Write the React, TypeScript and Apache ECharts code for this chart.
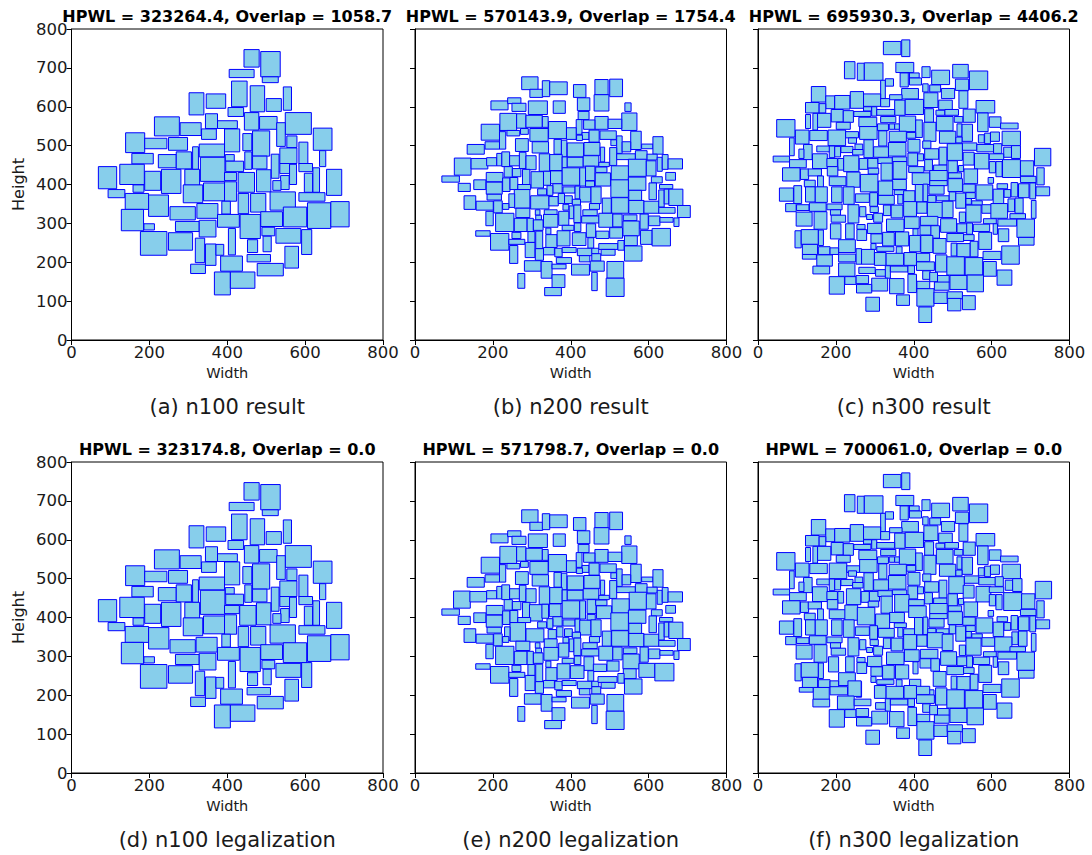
import React, { useEffect, useRef } from "react";
import * as echarts from "echarts";

type Rect = [number, number, number, number]; // x, y, width, height in chart units
type Move = [number, number, number, number, number]; // 1-based block number, x, y, width, height

const n100Result: Rect[] = [
[443,702,39,45],[486,677,50,65],[405,675,64,21],[490,662,41,15],[411,600,40,66],[459,587,37,67],[544,591,21,60],[500,588,39,33],[302,579,38,57],[346,596,50,37],
[402,575,40,23],[344,544,31,38],[444,540,37,45],[483,542,45,33],[549,529,67,56],[213,525,64,49],[279,526,54,33],[375,544,51,20],[334,516,38,27],[527,498,22,61],
[621,488,48,57],[393,484,39,59],[440,487,23,44],[465,473,44,65],[139,482,49,51],[188,492,57,27],[249,488,49,33],[553,495,26,30],[584,452,23,57],[328,471,65,33],
[311,439,15,58],[535,454,44,40],[637,446,16,41],[155,453,55,27],[223,443,46,34],[269,440,39,44],[395,460,23,17],[445,439,18,45],[465,440,37,33],[513,416,20,62],
[331,408,63,62],[396,433,46,27],[535,428,25,26],[560,400,18,52],[584,433,35,21],[124,400,63,52],[69,389,47,57],[188,385,41,49],[231,377,50,62],[291,398,38,41],
[393,410,31,21],[428,380,42,51],[475,381,37,57],[537,387,22,36],[517,385,21,25],[598,380,21,49],[620,380,17,63],[655,372,39,67],[158,380,28,19],[94,366,43,21],
[287,353,50,46],[339,358,55,46],[393,357,31,50],[138,336,60,41],[198,318,51,55],[428,325,27,52],[460,329,39,48],[510,334,65,47],[584,357,67,22],[386,324,22,33],
[322,313,54,38],[253,309,65,34],[606,287,60,66],[666,291,47,65],[544,291,60,51],[486,292,56,38],[128,281,57,55],[375,290,56,33],[433,261,52,62],[186,283,27,16],
[267,279,61,26],[328,265,43,43],[489,268,33,22],[525,249,64,38],[177,218,68,61],[249,231,62,45],[591,220,26,64],[403,219,18,68],[492,227,21,40],[452,225,26,33],
[318,199,24,63],[344,192,27,55],[371,218,20,28],[548,185,35,56],[451,201,60,19],[383,177,56,39],[306,171,38,24],[477,165,67,32],[367,116,41,59],[408,133,63,42],
];

const n200Result: Rect[] = [
[274,644,42,33],[295,624,33,21],[327,626,19,41],[346,631,45,33],[407,624,32,33],[462,631,34,39],[500,626,33,45],[460,589,38,42],[417,590,32,33],[195,592,44,23],
[238,608,34,15],[249,588,36,21],[291,580,49,35],[355,583,31,32],[539,588,16,22],[419,567,28,21],[218,539,43,44],[261,545,24,37],[285,547,42,31],[327,547,15,28],
[462,542,34,33],[531,539,39,45],[496,544,35,24],[433,542,29,24],[414,529,15,38],[343,518,46,44],[170,514,47,41],[236,525,33,14],[271,529,20,15],[295,511,47,33],
[389,516,25,30],[429,516,18,18],[447,509,26,31],[475,516,42,22],[415,513,15,14],[554,490,27,47],[217,491,16,45],[180,491,37,19],[258,485,33,33],[134,478,44,25],
[301,481,42,29],[357,478,19,38],[376,471,14,43],[391,471,42,36],[434,475,41,33],[503,500,15,15],[518,480,14,45],[532,484,22,26],[582,492,29,12],[611,478,26,45],
[500,449,18,46],[476,458,11,38],[518,464,48,15],[566,464,30,23],[596,463,26,15],[101,424,43,44],[144,440,43,27],[184,448,26,21],[210,448,13,32],[223,446,20,38],
[243,448,26,26],[268,441,17,42],[285,438,26,36],[319,434,27,45],[346,436,32,41],[378,443,13,28],[391,445,41,25],[432,447,40,27],[472,446,27,11],[548,421,46,44],
[594,422,25,39],[622,434,13,36],[635,439,15,38],[650,440,37,26],[229,419,21,27],[250,420,22,21],[276,400,19,39],[183,407,43,24],[298,391,32,42],[330,398,18,36],
[348,402,30,33],[378,398,45,45],[423,396,15,47],[438,410,24,37],[464,431,29,14],[504,411,44,37],[463,396,39,34],[438,394,23,15],[644,411,25,20],[607,404,28,16],
[548,385,45,34],[503,367,45,45],[151,387,31,25],[183,375,41,31],[225,382,19,35],[244,387,20,31],[111,382,31,21],[69,406,45,16],[264,387,33,13],[354,378,24,24],
[380,378,31,16],[339,372,15,25],[315,373,23,16],[411,363,13,33],[423,355,29,38],[452,351,26,43],[601,361,19,43],[628,389,34,11],[549,359,33,26],[185,360,37,15],
[126,336,30,35],[157,334,44,23],[255,339,40,48],[241,341,15,35],[297,337,47,34],[344,345,24,24],[368,351,16,26],[384,351,20,20],[404,347,21,15],[481,326,23,39],
[505,326,43,40],[549,325,39,34],[588,326,39,31],[626,342,14,44],[640,350,12,38],[652,346,36,42],[626,326,42,15],[202,327,22,31],[225,336,16,15],[259,315,36,24],
[309,321,12,14],[310,309,15,12],[332,322,33,13],[380,334,15,15],[396,312,12,33],[408,302,18,45],[448,336,26,15],[431,320,37,15],[428,301,45,18],[674,315,33,31],
[182,294,19,37],[207,279,47,47],[255,279,33,34],[288,279,16,34],[304,282,25,27],[330,290,37,33],[369,295,26,36],[472,290,36,36],[508,291,24,33],[535,307,35,15],
[578,285,21,39],[600,294,29,25],[629,303,34,12],[665,292,13,22],[534,268,42,38],[500,262,33,27],[440,264,24,35],[409,279,17,22],[378,282,30,13],[336,272,13,16],
[156,267,37,14],[249,261,23,16],[465,261,33,19],[290,251,18,28],[310,235,18,45],[336,238,29,33],[365,242,33,39],[404,243,35,33],[444,236,15,27],[579,246,30,36],
[609,242,47,45],[538,243,33,25],[194,231,47,43],[241,246,41,13],[243,197,21,46],[283,212,25,39],[309,205,21,30],[330,219,28,19],[359,214,19,22],[378,225,36,13],
[417,217,38,19],[454,222,18,14],[472,233,49,15],[478,218,36,15],[521,231,16,25],[538,203,45,39],[363,197,39,15],[422,201,27,16],[454,203,23,19],[281,177,43,27],
[324,159,28,43],[352,183,36,12],[402,167,46,28],[450,177,36,26],[493,159,43,43],[264,133,18,38],[352,135,33,33],[454,127,14,47],[491,112,46,47],[333,114,43,21],
];

const n300Result: Rect[] = [
[322,734,45,34],[369,729,21,43],[222,672,27,44],[255,668,18,44],[273,668,48,45],[354,688,46,26],[421,675,21,28],[500,674,40,35],[446,657,46,37],[543,644,47,48],
[389,674,25,13],[365,651,21,36],[389,656,31,18],[327,653,21,19],[315,621,12,47],[507,642,34,29],[423,638,14,21],[441,638,28,18],[471,621,34,26],[137,612,37,40],
[369,620,43,27],[174,595,23,33],[197,594,39,35],[237,596,34,43],[271,601,44,32],[338,618,32,13],[315,600,23,21],[426,598,36,38],[516,596,23,45],[464,592,35,25],
[351,578,27,39],[378,580,47,39],[560,584,48,32],[122,584,35,27],[157,584,17,24],[271,589,21,11],[292,576,13,24],[305,578,46,15],[246,575,44,13],[188,561,31,32],
[219,560,26,30],[428,560,23,35],[457,578,23,13],[480,578,35,15],[527,560,31,34],[122,544,13,36],[141,540,12,43],[153,547,34,36],[315,559,39,16],[363,536,42,40],
[504,560,22,15],[564,536,27,48],[594,547,30,27],[48,522,47,45],[201,542,36,18],[259,549,46,24],[307,539,28,17],[337,542,14,14],[351,542,12,14],[405,521,17,45],
[458,538,43,37],[426,511,31,49],[511,524,13,32],[524,511,27,44],[623,543,45,15],[96,504,35,36],[133,513,45,26],[180,500,45,40],[225,520,33,16],[261,516,45,33],
[310,499,21,39],[337,510,44,27],[382,519,23,15],[466,506,42,31],[508,507,16,15],[566,507,15,21],[582,505,15,27],[597,511,23,24],[627,500,47,37],[81,474,12,46],
[232,506,21,14],[249,490,20,14],[272,469,24,46],[385,483,31,33],[423,493,21,19],[335,473,45,35],[297,470,38,27],[117,464,22,39],[151,484,33,15],[183,469,14,30],
[197,471,15,27],[213,482,31,16],[243,476,27,14],[486,462,39,43],[525,488,37,19],[562,484,43,19],[605,480,21,25],[631,470,20,26],[651,467,23,33],[710,448,42,45],
[105,467,13,24],[428,465,36,27],[465,450,20,46],[39,458,42,15],[140,441,38,38],[81,443,43,21],[177,446,27,21],[205,437,15,30],[220,433,39,41],[260,439,22,28],
[282,442,26,25],[308,454,37,15],[345,459,37,12],[385,448,25,33],[410,461,15,18],[428,435,20,29],[527,450,28,33],[556,440,37,40],[594,464,37,15],[488,430,24,31],
[515,433,13,16],[594,430,16,29],[611,420,16,39],[628,418,46,46],[674,422,34,39],[63,409,45,34],[109,413,21,27],[129,422,34,18],[178,422,27,24],[283,427,27,15],
[316,411,29,44],[347,414,35,45],[387,431,39,15],[451,435,34,15],[441,410,45,26],[489,416,34,14],[529,402,35,38],[716,399,19,44],[183,397,43,23],[228,393,34,39],
[263,381,45,45],[396,400,45,30],[153,393,15,29],[674,405,40,16],[119,394,28,17],[345,387,36,26],[309,372,37,37],[441,397,45,13],[488,382,37,33],[591,403,14,15],
[614,389,27,13],[526,380,32,21],[439,375,39,22],[92,351,20,46],[55,357,36,34],[122,355,25,39],[147,354,31,40],[189,354,27,40],[219,349,28,45],[250,354,36,22],
[287,344,20,35],[309,349,41,23],[350,374,31,12],[374,355,29,29],[404,355,20,45],[424,356,12,45],[560,360,43,39],[604,351,27,37],[632,367,17,20],[650,368,17,37],
[669,366,27,36],[698,363,15,41],[714,371,35,23],[359,350,13,24],[436,353,21,19],[458,358,33,13],[491,358,17,23],[508,339,25,39],[534,349,14,15],[534,364,24,15],
[549,347,27,11],[642,330,17,33],[660,326,21,39],[702,313,12,46],[71,330,27,21],[99,333,32,15],[132,331,43,22],[177,335,39,15],[186,321,26,14],[231,301,28,47],
[261,317,16,26],[288,328,21,15],[322,320,19,27],[342,314,30,33],[374,318,33,38],[408,326,26,29],[435,315,41,39],[473,315,28,42],[534,303,39,44],[575,326,33,22],
[598,313,43,38],[647,312,40,13],[98,293,41,36],[144,285,33,45],[188,303,37,18],[279,310,15,13],[297,303,23,23],[517,302,16,27],[376,287,38,30],[417,295,45,23],
[330,279,45,32],[469,277,41,35],[579,299,33,13],[616,293,48,18],[665,264,45,47],[186,260,27,39],[225,260,22,39],[254,285,21,12],[281,274,37,26],[511,276,26,23],
[536,272,15,29],[553,279,42,19],[604,272,11,27],[254,256,25,28],[398,255,13,31],[416,270,29,24],[444,262,22,32],[617,253,27,33],[95,237,16,44],[111,246,44,38],
[155,243,13,40],[290,249,29,24],[320,242,30,35],[353,242,34,36],[485,253,43,21],[528,256,27,15],[567,233,33,44],[389,227,28,42],[418,225,31,44],[450,223,33,38],
[669,244,40,20],[207,225,43,33],[114,220,39,26],[155,220,30,20],[185,220,22,17],[290,233,13,15],[305,228,44,12],[355,221,15,19],[496,216,15,33],[511,214,34,34],
[545,214,20,40],[114,208,36,12],[207,201,44,20],[252,195,14,40],[266,195,33,38],[299,192,30,33],[329,192,45,31],[375,192,32,33],[407,202,34,21],[456,175,29,44],
[485,167,45,47],[532,167,45,45],[578,207,46,21],[626,195,45,47],[151,190,40,29],[207,164,42,34],[259,171,42,16],[407,179,46,22],[579,164,33,38],[141,170,43,20],
[302,164,26,17],[327,159,13,32],[340,175,45,15],[385,171,17,20],[614,141,38,39],[183,118,39,45],[223,143,29,20],[252,145,32,21],[423,156,19,22],[441,150,20,24],
[461,148,30,18],[493,130,44,36],[537,124,42,43],[385,122,22,47],[292,126,41,33],[338,119,37,39],[253,121,39,22],[408,132,33,19],[453,128,38,21],[408,87,44,45],
[452,94,34,29],[486,106,39,18],[487,75,34,32],[525,78,33,36],[356,89,33,27],[277,74,35,36],[413,45,33,40],
];

const n100LegalMoves: Move[] = [
[51,393,410,38,21],[52,432,380,42,51],[65,198,319,52,55],[71,320,311,54,38],[75,544,284,60,51],[84,525,246,64,36],
];

const n200LegalMoves: Move[] = [
[56,99,424,43,44],[57,141,440,43,27],[70,550,421,45,44],[86,506,411,44,37],[79,294,391,33,42],[80,326,398,17,36],[81,345,402,30,33],
[84,442,410,23,36],[87,466,397,39,33],[88,442,393,21,15],[113,244,339,40,48],[114,230,341,14,35],[115,285,337,46,34],[116,342,345,21,24],
[117,364,350,16,26],[133,332,315,33,30],[168,399,243,35,33],[171,616,237,49,45],[170,575,246,41,36],[157,434,264,25,35],[156,493,262,31,26],
[163,458,261,34,19],[172,535,243,33,25],[183,470,233,49,15],[146,331,290,37,33],[147,369,298,26,36],
];

const n300LegalMoves: Move[] = [
[68,183,500,45,40],[69,228,516,33,17],[94,490,462,40,43],[95,530,488,37,19],[96,567,484,43,19],[97,609,480,21,25],[98,635,470,19,26],[99,654,467,24,33],
[100,712,448,42,45],[118,560,440,38,40],[124,631,418,47,46],[125,677,422,34,39],[109,227,433,37,41],[110,265,439,21,28],[111,286,442,26,25],[132,351,414,37,45],
[133,387,431,40,15],[141,255,381,45,45],[140,223,393,33,39],[142,387,400,45,30],[147,302,372,36,37],[146,338,387,38,26],[164,374,342,29,29],[165,402,355,21,45],
[197,435,322,41,39],[183,669,326,22,39],[182,652,330,16,33],[201,608,313,44,37],[216,181,260,26,39],[265,142,189,41,31],[253,185,201,45,21],[255,231,197,34,40],
[266,204,164,43,34],[267,247,173,43,17],[238,389,198,29,43],[239,418,193,34,21],[252,106,208,36,12],
];

const applyMoves = (blocks: Rect[], moves: Move[]): Rect[] => {
  const out = blocks.slice();
  moves.forEach(([n, x, y, w, h]) => { out[n - 1] = [x, y, w, h]; });
  return out;
};

const panelBlocks: Rect[][] = [
  n100Result, n200Result, n300Result,
  applyMoves(n100Result, n100LegalMoves),
  applyMoves(n200Result, n200LegalMoves),
  applyMoves(n300Result, n300LegalMoves),
];
const panelTitles = [
  "HPWL = 323264.4, Overlap = 1058.7",
  "HPWL = 570143.9, Overlap = 1754.4",
  "HPWL = 695930.3, Overlap = 4406.2",
  "HPWL = 323174.8, Overlap = 0.0",
  "HPWL = 571798.7, Overlap = 0.0",
  "HPWL = 700061.0, Overlap = 0.0",
];
const panelCaptions = [
  "(a) n100 result", "(b) n200 result", "(c) n300 result",
  "(d) n100 legalization", "(e) n200 legalization", "(f) n300 legalization",
];

const FONT = "DejaVu Sans";
const lefts = [71.5, 415, 758];
const tops = [29, 462];
const PW = 311.5;
const PH = 311;
const TEXT = "#1a1a1a";

const drawBlock = (_: any, api: any) => {
  const corner = api.coord([api.value(0), api.value(1) + api.value(3)]);
  const size = api.size([api.value(2), api.value(3)]);
  return {
    type: "rect",
    shape: { x: corner[0], y: corner[1], width: size[0], height: size[1] },
    style: { fill: "#87CEEB", stroke: "#0000FF", lineWidth: 1 },
  };
};

export default function App() {
  const ref = useRef<HTMLDivElement>(null);
  useEffect(() => {
    const chart = echarts.init(ref.current!, undefined, { renderer: "svg" });
    const idx = [0, 1, 2, 3, 4, 5];
    const left = (i: number) => lefts[i % 3];
    const top = (i: number) => tops[i < 3 ? 0 : 1];
    chart.setOption({
      animation: false,
      backgroundColor: "#fff",
      title: [
        ...idx.map((i) => ({
          text: panelTitles[i],
          left: left(i) + PW / 2,
          top: top(i) - 21,
          padding: 0,
          textAlign: "center",
          textStyle: { fontFamily: FONT, fontSize: 16, fontWeight: "bold", color: "#000" },
        })),
        ...idx.map((i) => ({
          text: panelCaptions[i],
          left: left(i) + PW / 2,
          top: top(i) + 367,
          padding: 0,
          textAlign: "center",
          textStyle: { fontFamily: FONT, fontSize: 21, fontWeight: "normal", color: TEXT },
        })),
      ],
      grid: idx.map((i) => ({
        left: left(i), top: top(i), width: PW, height: PH,
        show: true, borderColor: "#000", borderWidth: 1, backgroundColor: "#fff",
      })),
      xAxis: idx.map((i) => ({
        type: "value", gridIndex: i, min: 0, max: 800, interval: 200,
        name: "Width", nameLocation: "middle", nameGap: 25,
        nameTextStyle: { fontFamily: FONT, fontSize: 14.5, color: TEXT },
        splitLine: { show: false },
        axisLine: { show: true, lineStyle: { color: "#000", width: 1 } },
        axisTick: { show: true, length: 5, lineStyle: { color: "#000", width: 1 } },
        axisLabel: { fontFamily: FONT, fontSize: 16.5, color: TEXT, margin: 4 },
      })),
      yAxis: idx.map((i) => ({
        type: "value", gridIndex: i, min: 0, max: 800, interval: 100,
        name: i % 3 === 0 ? "Height" : "", nameLocation: "middle", nameGap: 45,
        nameTextStyle: { fontFamily: FONT, fontSize: 16, color: TEXT },
        splitLine: { show: false },
        axisLine: { show: true, lineStyle: { color: "#000", width: 1 } },
        axisTick: { show: true, length: 5, lineStyle: { color: "#000", width: 1 } },
        axisLabel: { show: i % 3 === 0, fontFamily: FONT, fontSize: 16.5, color: TEXT, margin: 4 },
      })),
      series: idx.map((i) => ({
        type: "custom",
        coordinateSystem: "cartesian2d",
        xAxisIndex: i, yAxisIndex: i,
        encode: { x: 0, y: 1 },
        renderItem: drawBlock,
        data: panelBlocks[i],
        silent: true,
      })),
    });
    return () => chart.dispose();
  }, []);
  return <div ref={ref} style={{ position: "fixed", left: 0, top: 0, width: 1092, height: 855 }} />;
}
